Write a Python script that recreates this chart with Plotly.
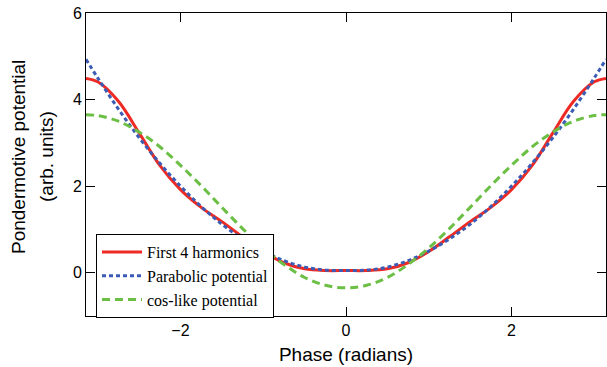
import plotly.graph_objects as go

phase = [-3.1416, -3.0, -2.75, -2.5, -2.25, -2.0, -1.75, -1.5, -1.25, -1.0, -0.75, -0.5, -0.25,
         0.0, 0.25, 0.5, 0.75, 1.0, 1.25, 1.5, 1.75, 2.0, 2.25, 2.5, 2.75, 3.0, 3.1416]

harmonics = [4.49, 4.41, 3.96, 3.23, 2.48, 1.92, 1.51, 1.18, 0.83, 0.49, 0.23, 0.09, 0.05,
             0.05, 0.05, 0.09, 0.23, 0.49, 0.83, 1.18, 1.51, 1.92, 2.48, 3.23, 3.96, 4.41, 4.49]

parabolic = [4.93, 4.50, 3.78, 3.12, 2.53, 2.00, 1.53, 1.12, 0.78, 0.50, 0.28, 0.13, 0.06,
             0.05, 0.06, 0.13, 0.28, 0.50, 0.78, 1.12, 1.53, 2.00, 2.53, 3.12, 3.78, 4.50, 4.93]

coslike = [3.65, 3.63, 3.50, 3.25, 2.91, 2.48, 2.01, 1.51, 1.02, 0.57, 0.19, -0.11, -0.29,
           -0.35, -0.29, -0.11, 0.19, 0.57, 1.02, 1.51, 2.01, 2.48, 2.91, 3.25, 3.50, 3.63, 3.65]

x_ticks = [-2, 0, 2]
y_ticks = [0, 2, 4, 6]

fig = go.Figure()
fig.add_trace(go.Scatter(x=phase, y=harmonics, mode="lines", name="First 4 harmonics",
                         line=dict(color="#ee2a24", width=3, shape="spline")))
fig.add_trace(go.Scatter(x=phase, y=parabolic, mode="lines", name="Parabolic potential",
                         line=dict(color="#3b5bb5", width=3, dash="4px,3px", shape="spline")))
fig.add_trace(go.Scatter(x=phase, y=coslike, mode="lines", name="cos-like potential",
                         line=dict(color="#6cbf45", width=3, dash="8px,5px", shape="spline")))

axis_common = dict(showline=True, linecolor="black", linewidth=1, mirror="ticks",
                   ticks="inside", ticklen=9, tickwidth=1, tickcolor="black",
                   showgrid=False, zeroline=False,
                   tickfont=dict(family="Liberation Sans, Arial", size=16, color="black"))

fig.update_xaxes(range=[-3.1416, 3.1416], tickvals=x_ticks,
                 title=dict(text="Phase (radians)", standoff=9,
                            font=dict(family="Liberation Sans, Arial", size=19, color="black")),
                 **axis_common)
fig.update_yaxes(range=[-1, 6], tickvals=y_ticks, **axis_common)

for label, px in (("Pondermotive potential", 18), ("(arb. units)", 46)):
    fig.add_annotation(text=label, xref="paper", yref="paper",
                       x=(px - 86) / 520, y=(316 - 157) / 303, textangle=-90, showarrow=False,
                       xanchor="center", yanchor="middle",
                       font=dict(family="Liberation Sans, Arial", size=19, color="black"))

fig.update_layout(
    width=607, height=367,
    margin=dict(l=86, r=1, t=13, b=51),
    plot_bgcolor="white", paper_bgcolor="white",
    legend=dict(x=(96 - 86) / 520, y=(316 - 234) / 303, xanchor="left", yanchor="top",
                bgcolor="white", bordercolor="black", borderwidth=1,
                font=dict(family="Liberation Serif, Times New Roman", size=16, color="black"),
                itemwidth=40, tracegroupgap=0),
)

fig.write_html("out.html")
